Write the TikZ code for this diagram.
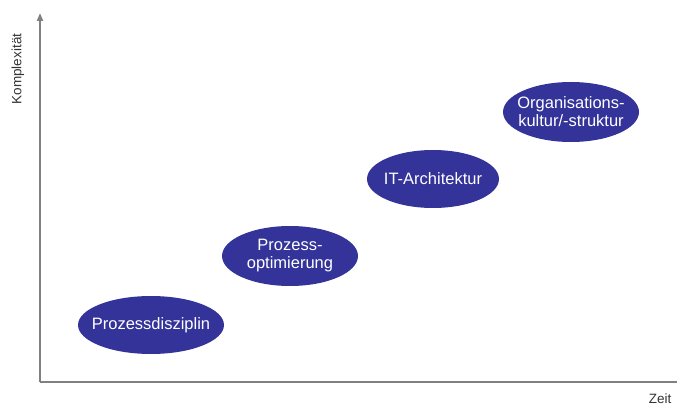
\documentclass[tikz,border=0pt]{standalone}
\usepackage{fontspec}
\setmainfont{Liberation Sans}
\usetikzlibrary{shapes.geometric,arrows.meta}
\definecolor{ellblue}{RGB}{51,51,153}
\definecolor{axisgray}{RGB}{128,128,128}
\tikzset{
  phase/.style={ellipse, fill=ellblue, text=white, inner sep=-20pt, align=center,
    font=\fontsize{16.5}{18}\selectfont},
  axis/.style={draw=axisgray, line width=2.2pt},
  axlabel/.style={font=\fontsize{13.5}{14}\selectfont, text=black!80, inner sep=0pt}
}
\begin{document}
\begin{tikzpicture}[x=1pt,y=1pt]
\useasboundingbox (0,0) rectangle (677,407);
% axes
\coordinate (o) at (40,25);
\coordinate (ytop) at (40,394);
\coordinate (xend) at (677,25);
\draw[axis, -{Triangle[length=8pt,width=6pt,fill=black!85]}] (o) -- (ytop);
\draw[axis] (o) -- (xend);
\node[axlabel, rotate=90] (ylab) at (18,338) {Komplexität};
\node[axlabel] (xlab) at (660,8) {Zeit};
% phases
\node[phase, minimum width=146pt, minimum height=58pt] (p1) at (151,82) {Prozessdisziplin};
\node[phase, minimum width=136pt, minimum height=60pt] (p2) at (290,151) {Prozess-\\optimierung};
\node[phase, minimum width=132pt, minimum height=58pt] (p3) at (433,228) {IT-Architektur};
\node[phase, minimum width=136pt, minimum height=60pt] (p4) at (571,295) {Organisations-\\kultur/-struktur};
\end{tikzpicture}
\end{document}
